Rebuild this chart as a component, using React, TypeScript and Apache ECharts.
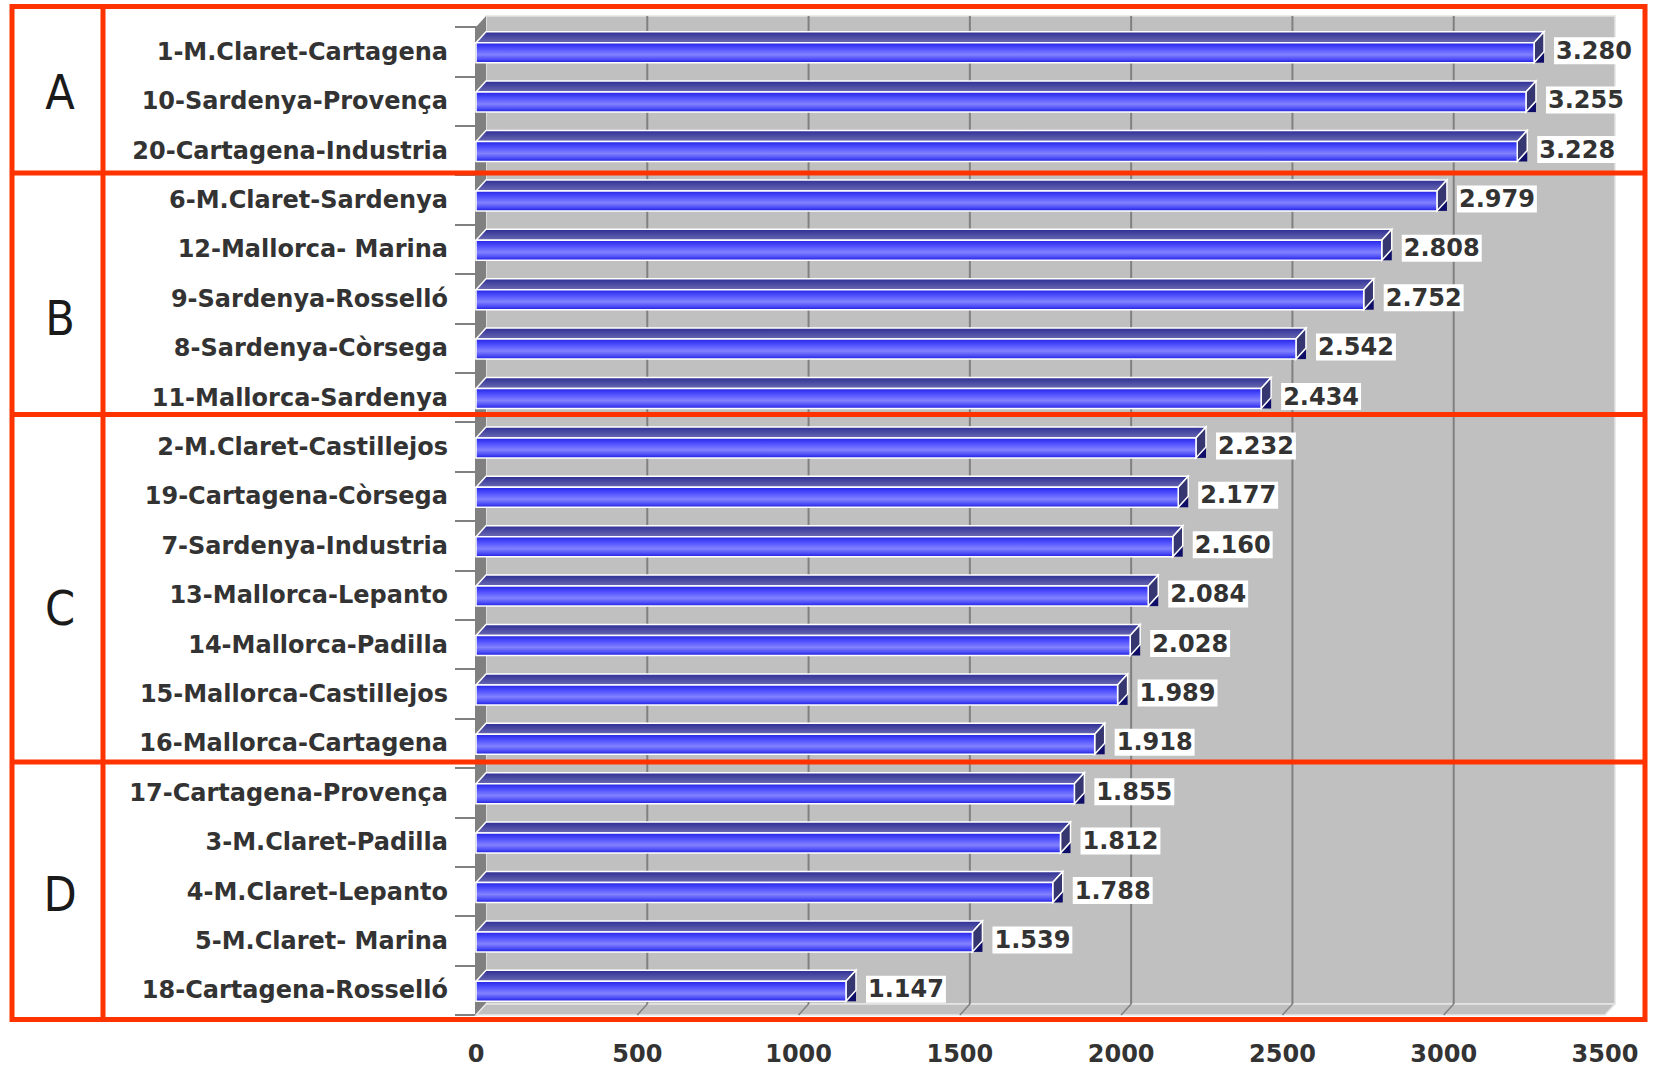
import React, { useEffect, useRef } from 'react';
import * as echarts from 'echarts';

const categories = [
  '1-M.Claret-Cartagena',
  '10-Sardenya-Provença',
  '20-Cartagena-Industria',
  '6-M.Claret-Sardenya',
  '12-Mallorca- Marina',
  '9-Sardenya-Rosselló',
  '8-Sardenya-Còrsega',
  '11-Mallorca-Sardenya',
  '2-M.Claret-Castillejos',
  '19-Cartagena-Còrsega',
  '7-Sardenya-Industria',
  '13-Mallorca-Lepanto',
  '14-Mallorca-Padilla',
  '15-Mallorca-Castillejos',
  '16-Mallorca-Cartagena',
  '17-Cartagena-Provença',
  '3-M.Claret-Padilla',
  '4-M.Claret-Lepanto',
  '5-M.Claret- Marina',
  '18-Cartagena-Rosselló',
];

const values = [
  3280, 3255, 3228, 2979, 2808, 2752, 2542, 2434, 2232, 2177,
  2160, 2084, 2028, 1989, 1918, 1855, 1812, 1788, 1539, 1147,
];

const groupLetters = ['A', 'B', 'C', 'D'];
const xTicks = [0, 500, 1000, 1500, 2000, 2500, 3000, 3500];

const fmt = (v: number) => {
  const s = String(Math.round(v));
  return s.length > 3 ? s.slice(0, -3) + '.' + s.slice(-3) : s;
};

const FONT = '"DejaVu Sans", Verdana, sans-serif';
const DX = 10;
const DY = 11;

export default function App() {
  const ref = useRef<HTMLDivElement>(null);

  useEffect(() => {
    document.body.style.margin = '0';
    const chart = echarts.init(ref.current as HTMLDivElement, null, { renderer: 'svg' });

    const frontGrad = () =>
      new echarts.graphic.LinearGradient(0, 0, 0, 1, [
        { offset: 0, color: '#2424e6' },
        { offset: 0.3, color: '#5252ff' },
        { offset: 0.6, color: '#8282ff' },
        { offset: 0.85, color: '#4848f6' },
        { offset: 1, color: '#1c1cd8' },
      ]);
    const topGrad = () =>
      new echarts.graphic.LinearGradient(0, 0, 0, 1, [
        { offset: 0, color: '#2e2e96' },
        { offset: 1, color: '#6a6ab2' },
      ]);

    const letterY = [92, 318, 608, 894];
    const redColor = '#ff3300';

    const graphic: any[] = [
      {
        type: 'rect',
        z: 100,
        shape: { x: 12, y: 6.5, width: 1633, height: 1013 },
        style: { fill: 'none', stroke: redColor, lineWidth: 5 },
      },
      {
        type: 'line',
        z: 100,
        shape: { x1: 103, y1: 6.5, x2: 103, y2: 1019.5 },
        style: { stroke: redColor, lineWidth: 5 },
      },
      ...[173, 414.5, 762].map((y) => ({
        type: 'line',
        z: 100,
        shape: { x1: 12, y1: y, x2: 1645, y2: y },
        style: { stroke: redColor, lineWidth: 5 },
      })),
      ...groupLetters.map((g, i) => ({
        type: 'text',
        z: 100,
        x: 60,
        y: letterY[i],
        style: {
          text: g,
          fill: '#1a1a1a',
          fontSize: 48,
          fontFamily: '"Liberation Sans Narrow", "DejaVu Sans Condensed", Roboto, sans-serif',
          align: 'center',
          verticalAlign: 'middle',
        },
      })),
    ];

    const option: any = {
      animation: false,
      backgroundColor: '#ffffff',
      grid: { left: 476, right: 48, top: 27, bottom: 54, containLabel: false },
      xAxis: {
        type: 'value',
        min: 0,
        max: 3500,
        interval: 500,
        axisLine: { show: false },
        axisTick: { show: false },
        splitLine: { show: false },
        axisLabel: {
          margin: 27,
          color: '#333333',
          fontSize: 24,
          fontWeight: 'bold',
          fontFamily: FONT,
          formatter: (v: number) => String(v),
        },
      },
      yAxis: {
        type: 'category',
        inverse: true,
        data: categories,
        axisLine: { show: true, lineStyle: { color: '#808080', width: 2 } },
        axisTick: { show: true, length: 21, lineStyle: { color: '#808080', width: 2 } },
        axisLabel: {
          margin: 28,
          color: '#333333',
          fontSize: 24,
          fontWeight: 'bold',
          fontFamily: FONT,
        },
        splitLine: { show: false },
      },
      graphic,
      series: [
        {
          type: 'custom',
          name: 'wall',
          z: 1,
          silent: true,
          data: [[0, 0]],
          encode: { x: 0, y: 1 },
          renderItem: (params: any) => {
            const cs = params.coordSys;
            const x0 = cs.x, y0 = cs.y, w = cs.width, h = cs.height;
            return {
              type: 'group',
              children: [
                {
                  type: 'rect',
                  shape: { x: x0 + DX, y: y0 - DY, width: w, height: h },
                  style: { fill: '#c0c0c0', stroke: '#e4e4e4', lineWidth: 1.5 },
                },
                {
                  type: 'polygon',
                  shape: {
                    points: [
                      [x0, y0],
                      [x0 + DX, y0 - DY],
                      [x0 + DX, y0 + h - DY],
                      [x0, y0 + h],
                    ],
                  },
                  style: { fill: '#808080' },
                },
                {
                  type: 'polygon',
                  shape: {
                    points: [
                      [x0, y0 + h],
                      [x0 + DX, y0 + h - DY],
                      [x0 + w + DX, y0 + h - DY],
                      [x0 + w, y0 + h],
                    ],
                  },
                  style: { fill: '#c0c0c0', stroke: '#e8e8e8', lineWidth: 1.5 },
                },
              ],
            };
          },
        },
        {
          type: 'custom',
          name: 'gridlines',
          z: 2,
          silent: true,
          data: xTicks.filter((t) => t > 0 && t < 3500).map((t) => [t, 0]),
          encode: { x: 0, y: 1 },
          renderItem: (params: any, api: any) => {
            const cs = params.coordSys;
            const p = api.coord([api.value(0), 0]);
            const x = p[0];
            const yTop = cs.y - DY;
            const yBack = cs.y + cs.height - DY;
            const yFront = cs.y + cs.height;
            return {
              type: 'group',
              children: [
                {
                  type: 'line',
                  shape: { x1: x + DX, y1: yTop, x2: x + DX, y2: yBack },
                  style: { stroke: '#808080', lineWidth: 2 },
                },
                {
                  type: 'line',
                  shape: { x1: x + DX, y1: yBack, x2: x, y2: yFront },
                  style: { stroke: '#808080', lineWidth: 1.5 },
                },
              ],
            };
          },
        },
        {
          type: 'custom',
          name: 'values',
          z: 3,
          data: values.map((v, i) => [v, i]),
          encode: { x: 0, y: 1 },
          renderItem: (params: any, api: any) => {
            const v = api.value(0);
            const idx = api.value(1);
            const p0 = api.coord([0, idx]);
            const p1 = api.coord([v, idx]);
            const x0 = p0[0];
            const x1 = p1[0];
            const c = p0[1];
            const yTop = c - 9;
            const yBot = c + 11;
            const edge = { stroke: '#ffffff', lineWidth: 1.5 };
            return {
              type: 'group',
              children: [
                {
                  type: 'rect',
                  shape: { x: x1, y: yTop - DY, width: DX, height: yBot - yTop + DY },
                  style: { fill: '#0e0e68' },
                },
                {
                  type: 'polygon',
                  shape: {
                    points: [
                      [x0, yTop],
                      [x0 + DX, yTop - DY],
                      [x1 + DX, yTop - DY],
                      [x1, yTop],
                    ],
                  },
                  style: { fill: topGrad(), ...edge },
                },
                {
                  type: 'polygon',
                  shape: {
                    points: [
                      [x1, yTop],
                      [x1 + DX, yTop - DY],
                      [x1 + DX, yBot - DY],
                      [x1, yBot],
                    ],
                  },
                  style: { fill: '#363670', ...edge },
                },
                {
                  type: 'rect',
                  shape: { x: x0, y: yTop, width: x1 - x0, height: yBot - yTop },
                  style: { fill: frontGrad(), ...edge },
                },
                {
                  type: 'text',
                  x: x1 + DX + 10,
                  y: c - 1,
                  style: {
                    text: fmt(v),
                    fill: '#333333',
                    fontSize: 24,
                    fontWeight: 'bold',
                    fontFamily: FONT,
                    align: 'left',
                    verticalAlign: 'middle',
                    backgroundColor: '#ffffff',
                    padding: [2, 2, 1, 2],
                  },
                },
              ],
            };
          },
        },
      ],
    };

    chart.setOption(option);
    return () => chart.dispose();
  }, []);

  return <div ref={ref} style={{ width: 1653, height: 1069 }} />;
}
